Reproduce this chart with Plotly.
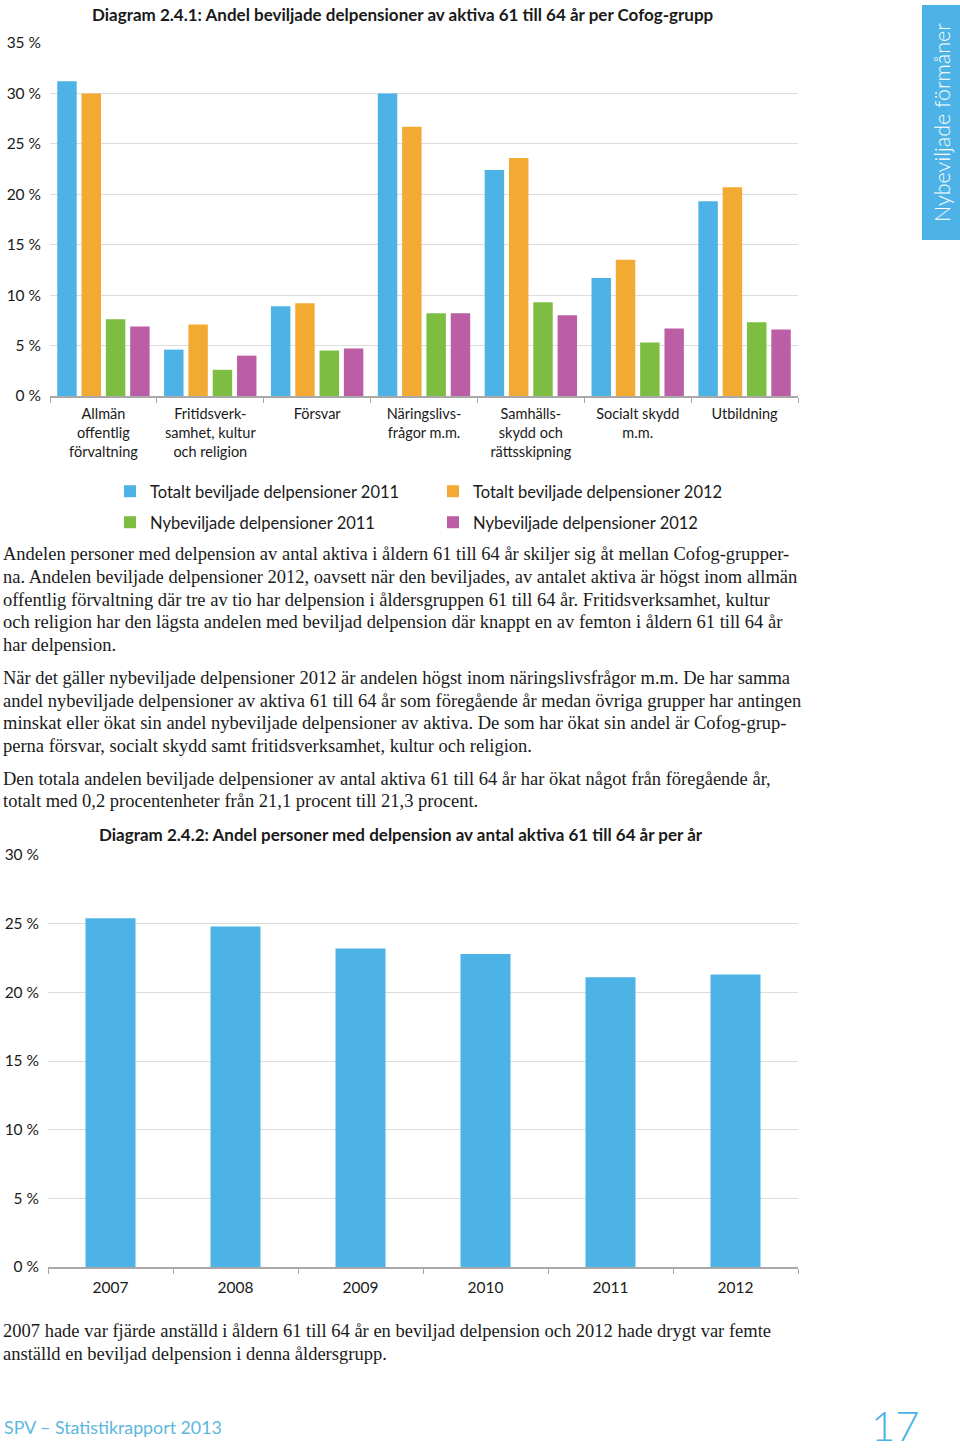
import plotly.graph_objects as go

W, H = 960, 1451
def px(x): return x / W
def py(y): return 1 - y / H

# ---------------- Data ----------------
categories = [
    "Allmän<br>offentlig<br>förvaltning",
    "Fritidsverk-<br>samhet, kultur<br>och religion",
    "Försvar",
    "Näringslivs-<br>frågor m.m.",
    "Samhälls-<br>skydd och<br>rättsskipning",
    "Socialt skydd<br>m.m.",
    "Utbildning",
]
totalt_2011 = [31.2, 4.6, 8.9, 30.0, 22.4, 11.7, 19.3]
totalt_2012 = [30.0, 7.1, 9.2, 26.7, 23.6, 13.5, 20.7]
ny_2011 = [7.6, 2.6, 4.5, 8.2, 9.3, 5.3, 7.3]
ny_2012 = [6.9, 4.0, 4.7, 8.2, 8.0, 6.7, 6.6]
series_names = [
    "Totalt beviljade delpensioner 2011",
    "Totalt beviljade delpensioner 2012",
    "Nybeviljade delpensioner 2011",
    "Nybeviljade delpensioner 2012",
]

years = ["2007", "2008", "2009", "2010", "2011", "2012"]
andel_per_ar = [25.4, 24.8, 23.2, 22.8, 21.1, 21.3]

y_ticks_1 = [0, 5, 10, 15, 20, 25, 30, 35]
y_ticks_2 = [0, 5, 10, 15, 20, 25, 30]

title_1 = "Diagram 2.4.1: Andel beviljade delpensioner av aktiva 61 till 64 år per Cofog-grupp"
title_2 = "Diagram 2.4.2: Andel personer med delpension av antal aktiva 61 till 64 år per år"

paragraph_lines = [
    (554, "Andelen personer med delpension av antal aktiva i åldern 61 till 64 år skiljer sig åt mellan Cofog-grupper-"),
    (577, "na. Andelen beviljade delpensioner 2012, oavsett när den beviljades, av antalet aktiva är högst inom allmän"),
    (600, "offentlig förvaltning där tre av tio har delpension i åldersgruppen 61 till 64 år. Fritidsverksamhet, kultur"),
    (622, "och religion har den lägsta andelen med beviljad delpension där knappt en av femton i åldern 61 till 64 år"),
    (645, "har delpension."),
    (678, "När det gäller nybeviljade delpensioner 2012 är andelen högst inom näringslivsfrågor m.m. De har samma"),
    (701, "andel nybeviljade delpensioner av aktiva 61 till 64 år som föregående år medan övriga grupper har antingen"),
    (723, "minskat eller ökat sin andel nybeviljade delpensioner av aktiva. De som har ökat sin andel är Cofog-grup-"),
    (746, "perna försvar, socialt skydd samt fritidsverksamhet, kultur och religion."),
    (779, "Den totala andelen beviljade delpensioner av antal aktiva 61 till 64 år har ökat något från föregående år,"),
    (801, "totalt med 0,2 procentenheter från 21,1 procent till 21,3 procent."),
    (1331, "2007 hade var fjärde anställd i åldern 61 till 64 år en beviljad delpension och 2012 hade drygt var femte"),
    (1354, "anställd en beviljad delpension i denna åldersgrupp."),
]

# ---------------- Styles ----------------
colors = ["#4db3e6", "#f3aa33", "#7dbd42", "#bc5ea6"]
legend_ids = ["legend", "legend", "legend2", "legend2"]
SANS = "Lato, 'Open Sans', sans-serif"
SERIF = "'Liberation Serif', 'DejaVu Serif', serif"
TXT = "#1a1a1a"
GRID = "#dcdcdc"
AXIS = "#a8a8a8"
BLUE = "#4db3e6"

fig = go.Figure()

for name, vals, col, lg in zip(series_names, [totalt_2011, totalt_2012, ny_2011, ny_2012], colors, legend_ids):
    fig.add_trace(go.Bar(
        x=categories, y=vals, name=name, marker=dict(color=col, line=dict(width=0)),
        xaxis="x", yaxis="y", hoverinfo="skip", legend=lg,
    ))

fig.add_trace(go.Bar(
    x=years, y=andel_per_ar, marker=dict(color=BLUE, line=dict(width=0)),
    xaxis="x2", yaxis="y2", showlegend=False, hoverinfo="skip", width=0.4,
))

common_x = dict(
    type="category", showgrid=False, showline=True, linecolor=AXIS, linewidth=1.5,
    ticks="outside", tickson="boundaries", ticklen=5, tickcolor=AXIS, tickwidth=1,
    zeroline=False, fixedrange=True, automargin=False,
)
common_y = dict(
    showgrid=True, gridcolor=GRID, gridwidth=1, showline=False, zeroline=False,
    ticks="", fixedrange=True, automargin=False, tickmode="array", ticklabelstandoff=8,
)

legend_common = dict(
    orientation="h", xanchor="left", yanchor="top",
    entrywidth=278, entrywidthmode="pixels",
    font=dict(size=16.5, color=TXT, family=SANS),
    itemclick=False, itemdoubleclick=False, bgcolor="rgba(0,0,0,0)",
)

fig.update_layout(
    width=W, height=H,
    margin=dict(l=0, r=0, t=0, b=0, pad=0, autoexpand=False),
    paper_bgcolor="white", plot_bgcolor="white",
    barmode="group", bargap=0.09, bargroupgap=0.2,
    font=dict(family=SANS, color=TXT),
    xaxis=dict(**common_x, domain=[px(50), px(798)], anchor="y", ticklabelstandoff=4,
               tickfont=dict(size=14.5, color=TXT)),
    yaxis=dict(**common_y, domain=[py(396), py(43)], anchor="x", range=[0, 35],
               tickvals=y_ticks_1, ticktext=[f"{v} %" for v in y_ticks_1],
               tickfont=dict(size=15.5, color=TXT)),
    xaxis2=dict(**common_x, domain=[px(48), px(798)], anchor="y2", ticklabelstandoff=6,
                tickfont=dict(size=15.5, color=TXT)),
    yaxis2=dict(**common_y, domain=[py(1267), py(855)], anchor="x2", range=[0, 30],
                tickvals=y_ticks_2, ticktext=[f"{v} %" for v in y_ticks_2],
                tickfont=dict(size=15.5, color=TXT)),
    legend=dict(**legend_common, x=px(110), y=py(474)),
    legend2=dict(**legend_common, x=px(110), y=py(505)),
    showlegend=True,
)

annotations = []
annotations.append(dict(text="<b>" + title_1 + "</b>", x=px(90), y=py(14), xref="paper", yref="paper",
                        xanchor="left", yanchor="middle", showarrow=False,
                        font=dict(size=17, family=SANS, color=TXT)))
annotations.append(dict(text="<b>" + title_2 + "</b>", x=px(97), y=py(834), xref="paper", yref="paper",
                        xanchor="left", yanchor="middle", showarrow=False,
                        font=dict(size=17, family=SANS, color=TXT)))
for ypix, line in paragraph_lines:
    annotations.append(dict(text=line, x=px(1), y=py(ypix), xref="paper", yref="paper",
                            xanchor="left", yanchor="middle", showarrow=False,
                            font=dict(size=18.5, family=SERIF, color=TXT)))
# sidebar text
annotations.append(dict(text="Nybeviljade förmåner", x=px(942), y=py(123), xref="paper", yref="paper",
                        xanchor="center", yanchor="middle", textangle=-90, showarrow=False,
                        font=dict(size=21.5, family=SANS, color="white", weight=300)))
# footer
annotations.append(dict(text="SPV – Statistikrapport 2013", x=px(2), y=py(1427), xref="paper", yref="paper",
                        xanchor="left", yanchor="middle", showarrow=False,
                        font=dict(size=17.8, family=SANS, color="#5cb8dc")))
annotations.append(dict(text="17", x=px(922), y=py(1425), xref="paper", yref="paper",
                        xanchor="right", yanchor="middle", showarrow=False,
                        font=dict(size=42, family="Lato, sans-serif", color=BLUE, weight=300)))

fig.update_layout(annotations=annotations)

fig.add_shape(type="rect", xref="paper", yref="paper",
              x0=px(922), x1=1.0, y0=py(240), y1=py(5),
              fillcolor=BLUE, line=dict(width=0), layer="below")

# remove the browser's default 8px page margin so the 960x1451 figure fills the window
fig.write_html("out.html", config={"displayModeBar": False},
               post_script="document.body.style.margin='0';")
